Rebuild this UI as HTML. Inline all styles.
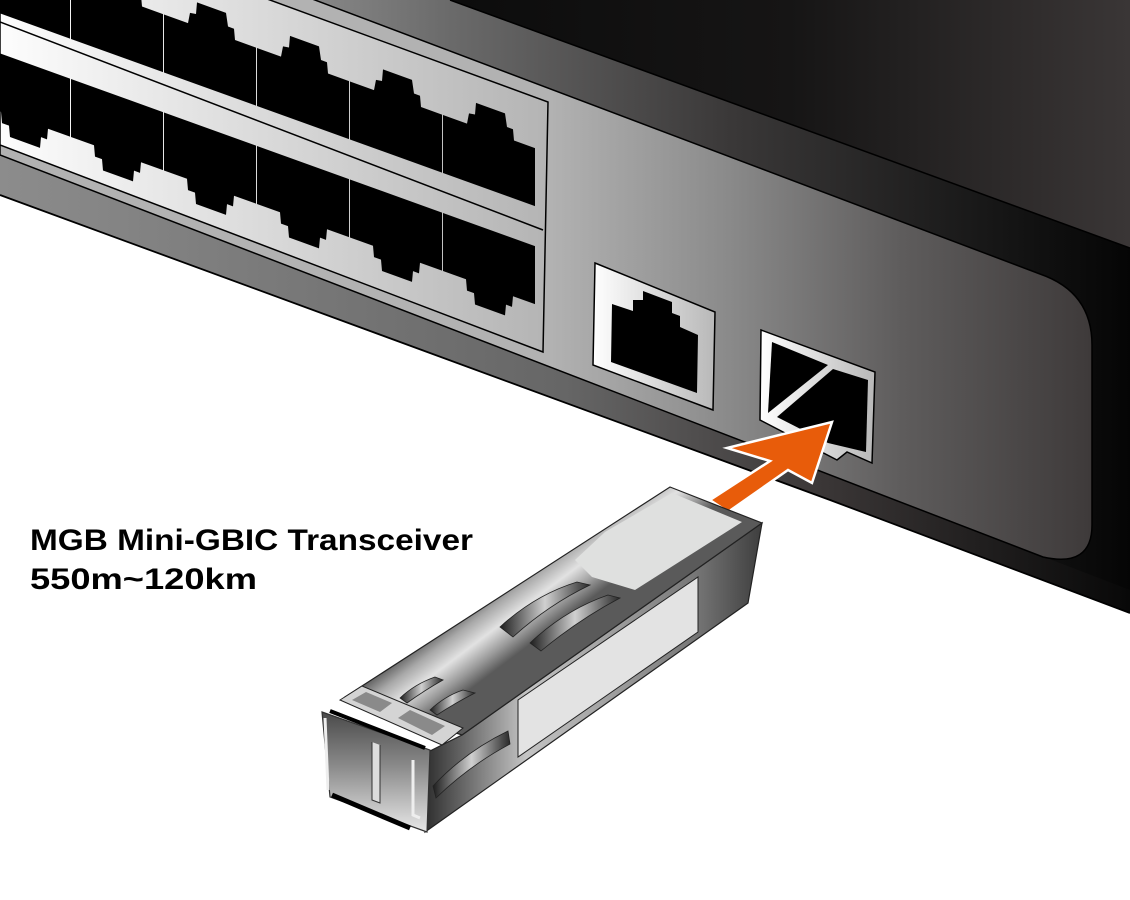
<!DOCTYPE html>
<html><head><meta charset="utf-8"><style>html,body{margin:0;padding:0;background:#fff}svg{display:block}</style></head>
<body>
<svg width="1130" height="900" viewBox="0 0 1130 900" xmlns="http://www.w3.org/2000/svg">
<defs>
<linearGradient id="gTop" gradientUnits="userSpaceOnUse" x1="450" y1="0" x2="1130" y2="0">
<stop offset="0" stop-color="#0c0c0c"/><stop offset="0.5" stop-color="#161515"/><stop offset="1" stop-color="#3a3636"/></linearGradient>
<linearGradient id="gBevel" gradientUnits="userSpaceOnUse" x1="300" y1="0" x2="1130" y2="0">
<stop offset="0" stop-color="#8a8a8a"/><stop offset="0.17" stop-color="#6c6c6c"/><stop offset="0.52" stop-color="#3a3838"/><stop offset="0.85" stop-color="#151515"/><stop offset="1" stop-color="#050505"/></linearGradient>
<linearGradient id="gBand" gradientUnits="userSpaceOnUse" x1="0" y1="0" x2="1130" y2="0">
<stop offset="0" stop-color="#8c8c8c"/><stop offset="0.5" stop-color="#666"/><stop offset="0.73" stop-color="#3a3636"/><stop offset="1" stop-color="#080808"/></linearGradient>
<linearGradient id="gPanel" gradientUnits="userSpaceOnUse" x1="550" y1="0" x2="1092" y2="0">
<stop offset="0" stop-color="#b2b2b2"/><stop offset="0.33" stop-color="#8a8a8a"/><stop offset="0.65" stop-color="#5e5c5c"/><stop offset="1" stop-color="#3e3a3a"/></linearGradient>
<linearGradient id="gFrame" gradientUnits="userSpaceOnUse" x1="0" y1="0" x2="548" y2="0">
<stop offset="0" stop-color="#fdfdfd"/><stop offset="1" stop-color="#b4b4b4"/></linearGradient>
<linearGradient id="gPort" x1="0" y1="0" x2="1" y2="0">
<stop offset="0" stop-color="#fff"/><stop offset="1" stop-color="#b8b8b8"/></linearGradient>
<linearGradient id="gMTop" gradientUnits="userSpaceOnUse" x1="395" y1="652" x2="440" y2="712">
<stop offset="0" stop-color="#3e3e3e"/><stop offset="0.3" stop-color="#a8a8a8"/><stop offset="0.55" stop-color="#e2e2e2"/><stop offset="0.8" stop-color="#9a9a9a"/><stop offset="1" stop-color="#5a5a5a"/></linearGradient>
<linearGradient id="gMSide" gradientUnits="userSpaceOnUse" x1="425" y1="0" x2="762" y2="0">
<stop offset="0" stop-color="#2e2e2e"/><stop offset="0.12" stop-color="#6a6a6a"/><stop offset="0.3" stop-color="#c4c4c4"/><stop offset="0.55" stop-color="#a0a0a0"/><stop offset="0.8" stop-color="#777"/><stop offset="1" stop-color="#3e3e3e"/></linearGradient>
<linearGradient id="gSlot" x1="0" y1="0" x2="1" y2="0">
<stop offset="0" stop-color="#1e1e1e"/><stop offset="0.5" stop-color="#d0d0d0"/><stop offset="1" stop-color="#2a2a2a"/></linearGradient>
<linearGradient id="gFront" x1="0" y1="0" x2="0" y2="1">
<stop offset="0" stop-color="#4a4a4a"/><stop offset="0.45" stop-color="#8a8a8a"/><stop offset="1" stop-color="#e8e8e8"/></linearGradient>
<polygon id="pu" points="0,0 24,0 26,-11 32,-12 33,-24 62,-24 64,-11 70,-11 71,0 92,0 92,58 0,58"/>
<polygon id="pl" points="0,0 92,0 92,58 70,58 69,69 63,69 62,80 32,80 31,69 24,69 23,58 0,58"/>
</defs>

<rect width="1130" height="900" fill="#fff"/>

<!-- switch body (bevel) -->
<polygon points="0,-200 450,-200 450,0 1130,248 1130,613 830,500 0,195" fill="url(#gBevel)"/>
<!-- top surface -->
<polygon points="450,0 1130,0 1130,248" fill="url(#gTop)"/>
<line x1="450" y1="0" x2="1130" y2="248" stroke="#000" stroke-width="1.5"/>
<!-- bottom band -->
<polygon points="0,155 1130,590 1130,613 830,500 0,195" fill="url(#gBand)"/>
<polyline points="0,195 830,500 1130,613" fill="none" stroke="#000" stroke-width="1.8"/>
<!-- panel -->
<path d="M0,-119 L1040,274 Q1092,292 1092,345 L1092,525 Q1092,568 1043,557 L0,155 Z" fill="url(#gPanel)" stroke="#000" stroke-width="1.5"/>
<!-- ports frame -->
<polygon points="0,-99 548,102 543,352 0,145" fill="url(#gFrame)" stroke="#000" stroke-width="1.5"/>
<line x1="0" y1="22" x2="543" y2="230" stroke="#000" stroke-width="1.5"/>

<g fill="#000">
<use href="#pu" transform="translate(443,115) skewY(19.8)"/>
<use href="#pu" transform="translate(350,81.5) skewY(19.8)"/>
<use href="#pu" transform="translate(257,48) skewY(19.8)"/>
<use href="#pu" transform="translate(164,14.5) skewY(19.8)"/>
<use href="#pu" transform="translate(71,-19) skewY(19.8)"/>
<use href="#pu" transform="translate(-22,-52.5) skewY(19.8)"/>
<use href="#pl" transform="translate(443,213) skewY(19.8)"/>
<use href="#pl" transform="translate(350,179.5) skewY(19.8)"/>
<use href="#pl" transform="translate(257,146) skewY(19.8)"/>
<use href="#pl" transform="translate(164,112.5) skewY(19.8)"/>
<use href="#pl" transform="translate(71,79) skewY(19.8)"/>
<use href="#pl" transform="translate(-22,45.5) skewY(19.8)"/>
</g>

<!-- single RJ45 -->
<polygon points="595,263 715,312 713,410 593,365" fill="url(#gPort)" stroke="#000" stroke-width="1.5"/>
<polygon points="612,304 633,311 633,300 643,300 643,291 672,302 672,313 680,316 680,327 698,335 697,393 611,362" fill="#000"/>

<!-- SFP port -->
<polygon points="761,330 875,372 872,463 847,452 837,460 760,420" fill="url(#gPort)" stroke="#000" stroke-width="1.5"/>
<polygon points="772,342 828,365 768,413" fill="#000"/>
<polygon points="833,369 868,380 866,452 828,443 777,417" fill="#000"/>

<!-- arrow -->
<polygon points="832,422 812,483 788,470 728,512 710,500 770,461 727,448" fill="#e85c0a" stroke="#fff" stroke-width="2.5" stroke-linejoin="miter"/>

<!-- SFP module -->
<polygon points="762,523 748,603 425,832 428,752 462,735" fill="url(#gMSide)" stroke="#222" stroke-width="1.2"/>
<polygon points="670,487 762,523 462,735 345,697" fill="url(#gMTop)" stroke="#222" stroke-width="1.2"/>
<polygon points="575,560 605,532 672,493 742,522 635,590 592,577" fill="#dfe0df"/>
<polygon points="518,700 698,577 698,632 518,757" fill="#e3e3e3" stroke="#222" stroke-width="1"/>
<path d="M433,786 Q465,752 508,731 L510,744 Q470,765 436,798 Z" fill="url(#gSlot)" stroke="#222" stroke-width="0.8"/>
<path d="M500,627 Q535,595 577,582 L590,585 Q548,605 513,637 Z" fill="url(#gSlot)" stroke="#222" stroke-width="0.8"/>
<path d="M530,643 Q565,610 608,595 L620,598 Q578,620 541,651 Z" fill="url(#gSlot)" stroke="#222" stroke-width="0.8"/>
<path d="M400,698 Q415,684 435,677 L443,680 Q425,690 407,703 Z" fill="url(#gSlot)" stroke="#222" stroke-width="0.8"/>
<path d="M430,710 Q445,696 463,690 L475,693 Q455,703 437,715 Z" fill="url(#gSlot)" stroke="#222" stroke-width="0.8"/>

<!-- front bezel -->
<polygon points="322,712 430,750 427,832 330,797" fill="url(#gFront)" stroke="#333" stroke-width="1.2"/>
<polygon points="340,700 362,686 463,728 442,745" fill="#d4d4d4" stroke="#222" stroke-width="1"/>
<polygon points="352,700 366,692 392,703 380,712" fill="#8a8a8a"/>
<polygon points="398,718 410,710 445,726 432,735" fill="#8a8a8a"/>
<line x1="330" y1="711" x2="425" y2="748" stroke="#000" stroke-width="4"/>
<polyline points="325,718 328,790" fill="none" stroke="#eee" stroke-width="3"/>
<polyline points="372,742 372,800 380,803 380,745" fill="#ddd" stroke="#333" stroke-width="1"/>
<polyline points="413,760 413,815 420,818" fill="none" stroke="#eee" stroke-width="3"/>
<line x1="332" y1="795" x2="410" y2="828" stroke="#000" stroke-width="5"/>

<!-- text -->
<text x="30" y="550" font-family="Liberation Sans, sans-serif" font-weight="bold" font-size="30" textLength="443" lengthAdjust="spacingAndGlyphs" fill="#000">MGB Mini-GBIC Transceiver</text>
<text x="30" y="589" font-family="Liberation Sans, sans-serif" font-weight="bold" font-size="30" textLength="227" lengthAdjust="spacingAndGlyphs" fill="#000">550m~120km</text>
</svg>
</body></html>
